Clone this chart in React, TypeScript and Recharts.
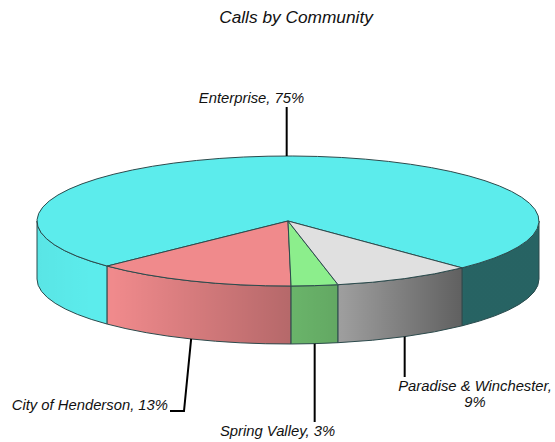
import React from 'react';
import { PieChart, Pie } from 'recharts';

const communities = ['Enterprise', 'City of Henderson', 'Spring Valley', 'Paradise & Winchester'];
const shares = [75, 13, 3, 9];
const topColors = ['#5cecec', '#f08a8c', '#8cee8c', '#e0e0e0'];

const chartData = communities.map((name, i) => ({ name, value: shares[i], fill: topColors[i] }));

const CX = 288;
const CY = 221;
const RX = 251;
const RY = 65; // flattened top face
const DEPTH = 58;
const START = 313.9;
const OUTLINE = '#2c4a4c';

const rad = (deg: number) => (deg * Math.PI) / 180;
const px = (deg: number) => CX + RX * Math.cos(rad(deg));
const py = (deg: number) => CY - RY * Math.sin(rad(deg));

// leader line end and label placement per slice
const callouts: Record<string, any> = {
  Enterprise: { angle: 90.3, endY: 107, x: 251.5, y: 103, anchor: 'middle' },
  'City of Henderson': { endX: 184, endY: 411, elbowX: 170, x: 168, y: 410, anchor: 'end' },
  'Spring Valley': { endY: 422, x: 277.5, y: 436, anchor: 'middle' },
  'Paradise & Winchester': { endY: 377, x: 475, y: 391, anchor: 'middle', wrap: true },
};

// Parts of the slice's arc that sit on the front half of the disc
const frontArcs = (start: number, end: number) => {
  const arcs: [number, number][] = [];
  for (let k = -1; k < 3; k++) {
    const a = Math.max(start, 180 + 360 * k);
    const b = Math.min(end, 360 + 360 * k);
    if (b > a) arcs.push([a, b]);
  }
  return arcs;
};

const wallPath = (a: number, b: number) => {
  const [x1, y1, x2, y2] = [px(a), py(a), px(b), py(b)];
  return (
    `M${x1},${y1} A${RX},${RY} 0 0 0 ${x2},${y2} L${x2},${y2 + DEPTH} ` +
    `A${RX},${RY} 0 0 1 ${x1},${y1 + DEPTH} Z`
  );
};

const DiscSlice = (props: any) => {
  const { startAngle, endAngle, fill } = props;
  const large = Math.abs(endAngle - startAngle) > 180 ? 1 : 0;
  const top =
    `M${CX},${CY} L${px(startAngle)},${py(startAngle)} ` +
    `A${RX},${RY} 0 ${large} 0 ${px(endAngle)},${py(endAngle)} Z`;
  return (
    <g>
      {frontArcs(startAngle, endAngle).map(([a, b]) => (
        <g key={a}>
          <path d={wallPath(a, b)} fill={fill} />
          <path d={wallPath(a, b)} fill="url(#wallShade)" stroke={OUTLINE} strokeWidth={1} />
        </g>
      ))}
      <path d={top} fill={fill} stroke={OUTLINE} strokeWidth={1} strokeLinejoin="round" />
    </g>
  );
};

const Callout = (props: any) => {
  const { name, value, midAngle } = props;
  const c = callouts[name];
  const angle = c.angle ?? midAngle;
  const x0 = px(angle);
  const sinA = Math.sin(rad(angle));
  const y0 = py(angle) + (sinA < 0 ? DEPTH : 0);
  const points = [`${x0},${y0}`, `${c.endX ?? x0},${c.endY}`];
  if (c.elbowX) points.push(`${c.elbowX},${c.endY}`);
  const textStyle = { fontFamily: 'Liberation Sans', fontStyle: 'italic', fontSize: 14.8, fill: '#111' };
  return (
    <g>
      <polyline points={points.join(' ')} fill="none" stroke="#000" strokeWidth={2} />
      {c.wrap ? (
        <text textAnchor={c.anchor} style={textStyle}>
          <tspan x={c.x} y={c.y}>{`${name},`}</tspan>
          <tspan x={c.x} y={c.y + 16}>{`${value}%`}</tspan>
        </text>
      ) : (
        <text x={c.x} y={c.y} textAnchor={c.anchor} style={textStyle}>{`${name}, ${value}%`}</text>
      )}
    </g>
  );
};

export default function App() {
  return (
    <div style={{ position: 'absolute', left: 0, top: 0, width: 555, height: 442 }}>
      <PieChart width={555} height={442} margin={{ top: 0, right: 0, bottom: 0, left: 0 }}>
        <defs>
          <linearGradient id="wallShade" gradientUnits="userSpaceOnUse" x1={37} y1={0} x2={538} y2={0}>
            <stop offset="0" stopColor="#000" stopOpacity={0.03} />
            <stop offset="0.11" stopColor="#000" stopOpacity={0} />
            <stop offset="0.15" stopColor="#000" stopOpacity={0} />
            <stop offset="0.5" stopColor="#000" stopOpacity={0.24} />
            <stop offset="0.61" stopColor="#000" stopOpacity={0.3} />
            <stop offset="0.856" stopColor="#000" stopOpacity={0.58} />
            <stop offset="1" stopColor="#000" stopOpacity={0.58} />
          </linearGradient>
        </defs>
        <text
          x={296}
          y={23}
          textAnchor="middle"
          style={{ fontFamily: 'Liberation Sans', fontStyle: 'italic', fontSize: 17.3, fill: '#111' }}
        >
          Calls by Community
        </text>
        <Pie
          data={chartData}
          dataKey="value"
          nameKey="name"
          cx={CX}
          cy={CY}
          outerRadius={RX}
          startAngle={START}
          endAngle={START + 360}
          shape={DiscSlice}
          label={Callout}
          labelLine={false}
          isAnimationActive={false}
        />
      </PieChart>
    </div>
  );
}
